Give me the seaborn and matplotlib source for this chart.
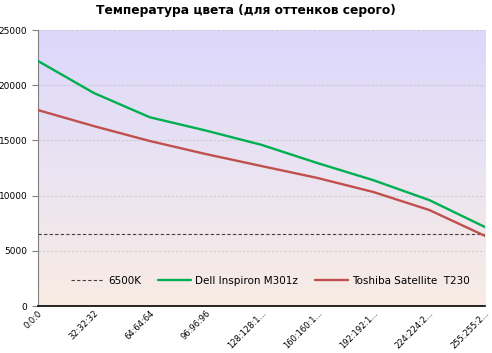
import numpy as np
import pandas as pd
import seaborn as sns
import matplotlib.pyplot as plt
from matplotlib.colors import LinearSegmentedColormap

# Data
categories = ['0:0:0', '32:32:32', '64:64:64', '96:96:96', '128:128:1...',
              '160:160:1...', '192:192:1...', '224:224:2...', '255:255:2...']
dell = [22200, 19300, 17100, 15900, 14600, 12950, 11400, 9600, 7150]
toshiba = [17750, 16300, 14950, 13770, 12680, 11600, 10330, 8700, 6350]
ref_6500k = [6500] * len(categories)

sns.set_style('white')
plt.rcParams['font.family'] = ['DejaVu Sans']
plt.rcParams['text.color'] = 'black'
plt.rcParams['xtick.color'] = 'black'
plt.rcParams['ytick.color'] = 'black'

fig = plt.figure(figsize=(4.92, 3.53), dpi=100)
ax = fig.add_axes([0.077, 0.133, 0.909, 0.782])

# gradient background
cmap = LinearSegmentedColormap.from_list('bg', ['#f9ece4', '#eae3f2', '#dcd7fc'])
grad = np.linspace(0, 1, 256).reshape(-1, 1)
ax.imshow(grad, aspect='auto', cmap=cmap, origin='lower',
          extent=[0, len(categories) - 1, 0, 25000], zorder=0)

df = pd.DataFrame({'x': np.arange(len(categories)), 'dell': dell,
                   'toshiba': toshiba, 'ref': ref_6500k})

sns.lineplot(data=df, x='x', y='ref', ax=ax, color='#404040', lw=0.8,
             linestyle=(0, (3, 2)), label='6500K', zorder=3)
sns.lineplot(data=df, x='x', y='dell', ax=ax, color='#00b050', lw=1.7,
             label='Dell Inspiron M301z', zorder=4)
sns.lineplot(data=df, x='x', y='toshiba', ax=ax, color='#c0504d', lw=1.7,
             label='Toshiba Satellite  T230', zorder=4)

ax.set_xlim(0, len(categories) - 1)
ax.set_ylim(0, 25000)
ax.set_yticks(range(0, 25001, 5000))
ax.set_xticks(range(len(categories)))
ax.set_xticklabels(categories, rotation=45, ha='right', rotation_mode='anchor',
                   fontsize=6)
ax.tick_params(axis='y', labelsize=6.5, length=4, direction='out', color='#808080',
               left=True)
ax.tick_params(axis='x', length=0, pad=2)
for y in range(5000, 25001, 5000):
    ax.axhline(y, color='#c8c8c8', lw=0.6, linestyle=(0, (3, 2)), zorder=1)

ax.set_xlabel('')
ax.set_ylabel('')
for s in ['top', 'right']:
    ax.spines[s].set_visible(False)
ax.spines['left'].set_color('#808080')
ax.spines['bottom'].set_color('black')
ax.spines['bottom'].set_linewidth(1.2)

ax.legend(loc='lower center', bbox_to_anchor=(0.52, 0.04), ncol=3, frameon=False,
          fontsize=7.5, handlelength=3.2, handletextpad=0.4, columnspacing=1.6)

fig.suptitle('Температура цвета (для оттенков серого)', fontsize=8.8,
             fontweight='bold', color='black', y=0.99)

fig.savefig('out.png', dpi=100)
